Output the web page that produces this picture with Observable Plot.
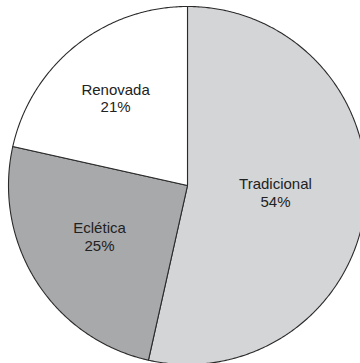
<!DOCTYPE html>
<html>
<head>
<meta charset="utf-8">
<script src="https://cdn.jsdelivr.net/npm/d3@7"></script>
<script src="https://cdn.jsdelivr.net/npm/@observablehq/plot@0.6"></script>
<style>
  html, body { margin: 0; padding: 0; background: #fff; }
  #chart { width: 360px; height: 363px; overflow: hidden; }
</style>
</head>
<body>
<div id="chart"></div>
<script>
// Data
const categories = ["Tradicional", "Eclética", "Renovada"];
const shares = [53.5, 25, 21.5];           // slice sizes (percent)
const shareLabels = ["54%", "25%", "21%"]; // printed labels
const fills = ["#d4d5d7", "#a8a9ab", "#ffffff"];

// Build pie geometry through d3.pie (start at 12 o'clock, clockwise, given order)
const pie = d3.pie().sort(null).value(d => d.value)
  (categories.map((name, i) => ({name, value: shares[i], fill: fills[i]})));

const pts = [];
pie.forEach(s => {
  const a0 = s.startAngle, a1 = s.endAngle;
  const n = Math.max(2, Math.ceil((a1 - a0) / (Math.PI / 360)));
  pts.push({name: s.data.name, fill: s.data.fill, x: 0, y: 0});
  for (let k = 0; k <= n; k++) {
    const a = a0 + (a1 - a0) * k / n;
    pts.push({name: s.data.name, fill: s.data.fill, x: Math.sin(a), y: Math.cos(a)});
  }
  pts.push({name: s.data.name, fill: s.data.fill, x: 0, y: 0});
});

// label placement (fraction of radius, shift from slice mid-angle)
const labelR = {"Tradicional": 0.493, "Eclética": 0.568, "Renovada": 0.633};
const labelAngleShift = {"Tradicional": -0.031, "Eclética": 0.04, "Renovada": -0.012};
const labels = pie.map((s, i) => {
  const a = (s.startAngle + s.endAngle) / 2 + labelAngleShift[s.data.name];
  const r = labelR[s.data.name];
  return {x: r * Math.sin(a), y: r * Math.cos(a), text: s.data.name + "\n" + shareLabels[i]};
});

const cx = 187, cy = 185, R = 179;
const plot = Plot.plot({
  width: 360,
  height: 363,
  margin: 0,
  x: {domain: [-1, 1], range: [cx - R, cx + R], axis: null},
  y: {domain: [-1, 1], range: [cy + R, cy - R], axis: null},
  color: {type: "identity"},
  style: {fontFamily: "'Liberation Sans', Arial, Helvetica, sans-serif", background: "#fff", overflow: "hidden"},
  marks: [
    Plot.line(pts, {x: "x", y: "y", z: "name", fill: "fill", stroke: "#2a2a2a", strokeWidth: 1.1, strokeLinejoin: "round", curve: "linear"}),
    Plot.text(labels, {x: "x", y: "y", text: "text", fontSize: 15, fill: "#222", lineHeight: 1.15})
  ]
});
document.getElementById("chart").appendChild(plot);
</script>
</body>
</html>
